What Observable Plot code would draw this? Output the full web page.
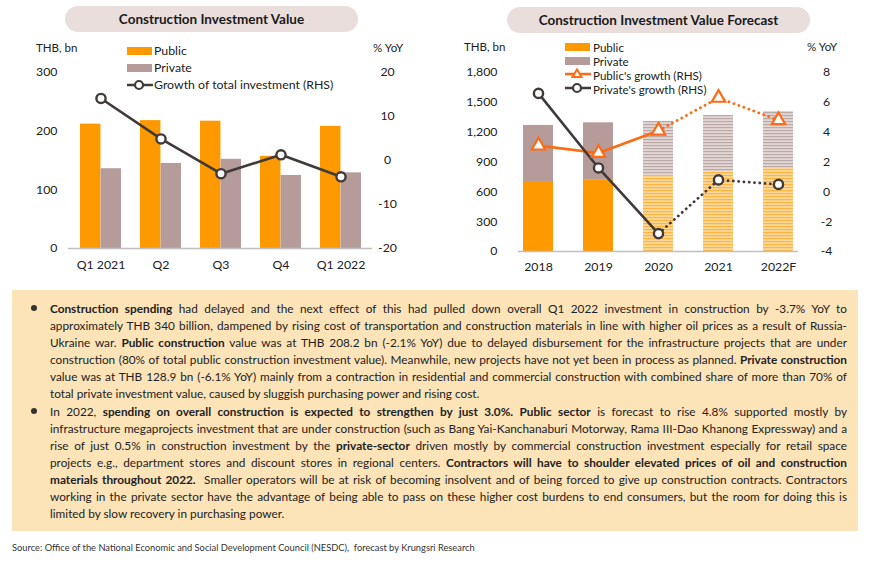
<!DOCTYPE html>
<html>
<head>
<meta charset="utf-8">
<script src="https://cdn.jsdelivr.net/npm/d3@7"></script>
<script src="https://cdn.jsdelivr.net/npm/@observablehq/plot@0.6"></script>
<style>
  html, body { margin: 0; padding: 0; background: #fff; }
  body { width: 870px; height: 564px; position: relative; overflow: hidden; font-family: Lato, "Open Sans", sans-serif; color: #222; }
  .abs { position: absolute; }
  .pill { position: absolute; background: #E9DEDC; border-radius: 14px; font-weight: 700; font-size: 13.5px; color: #1a1a1a; display: flex; align-items: center; justify-content: center; }
  .unit { position: absolute; font-size: 11.5px; color: #222; line-height: 1; transform: translateY(-50%); }
  .leg { position: absolute; font-size: 12.3px; color: #222; line-height: 1; transform: translateY(-50%); white-space: nowrap; }
  .leg.sm { font-size: 11.6px; line-height: 11px; }
  .sw { position: absolute; height: 8px; transform: translateY(-50%); }
  .box { position: absolute; left: 12px; top: 290px; width: 846px; height: 241px; background: #FDE3B8; }
  .para { position: absolute; left: 50px; width: 797px; }
  .line { height: 17px; line-height: 17px; white-space: nowrap; text-align: justify; text-align-last: justify; }
  .line.last { text-align-last: left; }
  .bullet { position: absolute; left: 31px; width: 6px; height: 6px; border-radius: 50%; background: #333; }
  .src { position: absolute; left: 12px; top: 542px; font-size: 9.3px; color: #333; white-space: nowrap; }
  #left, #right { position: absolute; top: 40px; }
  #left { left: 0; }
  #right { left: 435px; }
</style>
</head>
<body>
<div class="pill" style="left:65px; top:6px; width:293px; height:26px;">Construction Investment Value</div>
<div class="pill" style="left:507px; top:7px; width:303px; height:26px;">Construction Investment Value Forecast</div>

<div id="left"></div>
<div id="right"></div>

<div class="unit" style="left:36px; top:48px;">THB, bn</div>
<div class="unit" style="left:373px; top:48px;">% YoY</div>
<div class="unit" style="left:464px; top:47px;">THB, bn</div>
<div class="unit" style="left:807px; top:47px;">% YoY</div>

<!-- left legend -->
<div class="sw" style="left:127px; top:51px; width:25px; background:#FF9900;"></div>
<div class="leg" style="left:154px; top:51px;">Public</div>
<div class="sw" style="left:127px; top:68px; width:25px; background:#B59C9B;"></div>
<div class="leg" style="left:154px; top:68px;">Private</div>
<svg class="abs" style="left:126px; top:78px;" width="28" height="14"><line x1="1" y1="7" x2="27" y2="7" stroke="#403A38" stroke-width="2.5"/><circle cx="13" cy="7" r="4" fill="#fff" stroke="#403A38" stroke-width="2.2"/></svg>
<div class="leg" style="left:154px; top:85px;">Growth of total investment (RHS)</div>

<!-- right legend -->
<div class="sw" style="left:565px; top:47px; width:25px; background:#FF9900;"></div>
<div class="leg sm" style="left:593px; top:47px;">Public</div>
<div class="sw" style="left:565px; top:61px; width:25px; background:#B59C9B;"></div>
<div class="leg sm" style="left:593px; top:61px;">Private</div>
<svg class="abs" style="left:564px; top:67px;" width="28" height="14"><line x1="1" y1="7" x2="27" y2="7" stroke="#FF6A13" stroke-width="2.5"/><path d="M13,2.5 L17.5,10 L8.5,10 Z" fill="#fff" stroke="#FF6A13" stroke-width="2"/></svg>
<div class="leg sm" style="left:593px; top:74.5px;">Public's growth (RHS)</div>
<svg class="abs" style="left:564px; top:81px;" width="28" height="14"><line x1="1" y1="7" x2="27" y2="7" stroke="#403A38" stroke-width="2.5"/><circle cx="13" cy="7" r="4" fill="#fff" stroke="#403A38" stroke-width="2.2"/></svg>
<div class="leg sm" style="left:593px; top:88.5px;">Private's growth (RHS)</div>

<div class="box"></div>
<div class="bullet" style="top:305px;"></div>
<div class="bullet" style="top:408px;"></div>
<div class="para" id="p1" style="top:299.5px;"></div>
<div class="para" id="p2" style="top:402.5px;"></div>
<div class="src">Source: Office of the National Economic and Social Development Council (NESDC),&nbsp; forecast by Krungsri Research</div>

<script>
// ---------- Data: left chart (quarterly) ----------
const quarters = ["Q1 2021", "Q2", "Q3", "Q4", "Q1 2022"];
const qPublic = [212, 218, 217, 157, 208.2];
const qPrivate = [136, 145, 152, 124.5, 128.9];
const qGrowth = [14.1, 4.9, -3.0, 1.3, -3.7];
const qLeftTicks = [0, 100, 200, 300];
const qRightTicks = [-20, -10, 0, 10, 20];

// ---------- Data: right chart (annual) ----------
const years = ["2018", "2019", "2020", "2021", "2022F"];
const yPublic = [704, 716, 757, 798, 836];
const yPrivate = [564, 578, 551, 570, 573];
const pubGrowth = [3.1, 2.6, 4.1, 6.3, 4.8];
const privGrowth = [6.6, 1.6, -2.8, 0.8, 0.5];
const yLeftTicks = [0, 300, 600, 900, 1200, 1500, 1800];
const yRightTicks = [-4, -2, 0, 2, 4, 6, 8];
const firstEstimate = 2; // 2020 onwards hatched / dotted

const C_PUB = "#FF9900", C_PRI = "#B59C9B", C_DARK = "#403A38", C_PG = "#FF6A13";
const fontStyle = {fontFamily: "Lato, 'Open Sans', sans-serif", fontSize: "12.3px", color: "#222", background: "transparent", overflow: "visible"};

// ---------- Left chart ----------
{
  const gMin = -20, gMax = 20, yMax = 300;
  const toL = g => (g - gMin) / (gMax - gMin) * yMax;
  const fromL = v => v / yMax * (gMax - gMin) + gMin;
  const rows = quarters.map((q, i) => ({q, pub: qPublic[i], pri: qPrivate[i], g: toL(qGrowth[i])}));
  const width = 435, mL = 68, mR = 63;
  const pin = 0.32, pout = 0.174;
  const step = (width - mL - mR) / (quarters.length - pin + 2 * pout);
  const half = step * (1 - pin) / 2;
  const chart = Plot.plot({
    width, height: 240,
    marginLeft: mL, marginRight: mR, marginTop: 32, marginBottom: 32,
    style: fontStyle,
    x: {type: "band", domain: quarters, paddingInner: pin, paddingOuter: pout, label: null},
    y: {domain: [0, yMax], label: null},
    marks: [
      Plot.barY(rows, {x: "q", y: "pub", fill: C_PUB, insetRight: half}),
      Plot.barY(rows, {x: "q", y: "pri", fill: C_PRI, insetLeft: half}),
      Plot.ruleY([0], {stroke: "#BFBFBF", strokeWidth: 1.3}),
      Plot.line(rows, {x: "q", y: "g", stroke: C_DARK, strokeWidth: 2.6}),
      Plot.dot(rows, {x: "q", y: "g", r: 4.6, fill: "#fff", stroke: C_DARK, strokeWidth: 2.4}),
      Plot.axisX({tickSize: 0, tickPadding: 12, label: null}),
      Plot.axisY({ticks: qLeftTicks, tickSize: 0, tickPadding: 11, label: null}),
      Plot.axisY({anchor: "right", ticks: qRightTicks.map(toL), tickFormat: v => String(Math.round(fromL(v))), tickSize: 0, tickPadding: 15, textAnchor: "middle", label: null})
    ]
  });
  document.getElementById("left").appendChild(chart);
}

// ---------- Right chart ----------
{
  const gMin = -4, gMax = 8, yMax = 1800;
  const toL = g => (g - gMin) / (gMax - gMin) * yMax;
  const fromL = v => v / yMax * (gMax - gMin) + gMin;
  const rows = years.map((yr, i) => ({
    yr, pub: yPublic[i], tot: yPublic[i] + yPrivate[i],
    pg: toL(pubGrowth[i]), vg: toL(privGrowth[i]), est: i >= firstEstimate
  }));
  const act = rows.filter(d => !d.est);
  const est = rows.filter(d => d.est);
  const actLine = rows.slice(0, firstEstimate + 1);
  const estLine = rows.slice(firstEstimate);
  const chart = Plot.plot({
    width: 435, height: 240,
    marginLeft: 83, marginRight: 72, marginTop: 32, marginBottom: 29,
    style: fontStyle,
    x: {type: "band", domain: years, paddingInner: 0.5, paddingOuter: 0.083, label: null},
    y: {domain: [0, yMax], label: null},
    marks: [
      Plot.barY(act, {x: "yr", y1: 0, y2: "pub", fill: C_PUB}),
      Plot.barY(act, {x: "yr", y1: "pub", y2: "tot", fill: C_PRI}),
      Plot.barY(est, {x: "yr", y1: 0, y2: "pub", fill: "url(#hatchPub)"}),
      Plot.barY(est, {x: "yr", y1: "pub", y2: "tot", fill: "url(#hatchPri)"}),
      Plot.ruleY([0], {stroke: "#BFBFBF", strokeWidth: 1.3}),
      Plot.line(actLine, {x: "yr", y: "pg", stroke: C_PG, strokeWidth: 2.6}),
      Plot.line(estLine, {x: "yr", y: "pg", stroke: C_PG, strokeWidth: 2.8, strokeDasharray: "0.1,5.2", strokeLinecap: "round"}),
      Plot.line(actLine, {x: "yr", y: "vg", stroke: C_DARK, strokeWidth: 2.6}),
      Plot.line(estLine, {x: "yr", y: "vg", stroke: C_DARK, strokeWidth: 2.8, strokeDasharray: "0.1,5.2", strokeLinecap: "round"}),
      Plot.dot(rows, {x: "yr", y: "pg", symbol: "triangle", r: 5, fill: "#fff", stroke: C_PG, strokeWidth: 2.2}),
      Plot.dot(rows, {x: "yr", y: "vg", r: 4.6, fill: "#fff", stroke: C_DARK, strokeWidth: 2.4}),
      Plot.axisX({tickSize: 0, tickPadding: 11, label: null}),
      Plot.axisY({ticks: yLeftTicks, tickFormat: d3.format(","), tickSize: 0, tickPadding: 21, label: null}),
      Plot.axisY({anchor: "right", ticks: yRightTicks.map(toL), tickFormat: v => String(Math.round(fromL(v))), tickSize: 0, tickPadding: 28, textAnchor: "middle", label: null})
    ]
  });
  const svg = d3.select(chart.tagName.toLowerCase() === "svg" ? chart : chart.querySelector("svg"));
  const defs = svg.insert("defs", ":first-child");
  const mk = (id, bg, fg) => {
    const p = defs.append("pattern").attr("id", id).attr("patternUnits", "userSpaceOnUse").attr("width", 6).attr("height", 3);
    p.append("rect").attr("width", 6).attr("height", 3).attr("fill", bg);
    p.append("rect").attr("y", 0).attr("width", 6).attr("height", 1.2).attr("fill", fg);
  };
  mk("hatchPub", "#FFD99A", "#FFB340");
  mk("hatchPri", "#E2D7D5", "#BBA9A7");
  document.getElementById("right").appendChild(chart);
}

// ---------- Commentary text ----------
const para1 = [
  "<b>Construction spending</b> had delayed and the next effect of this had pulled down overall Q1 2022 investment in construction by -3.7% YoY to",
  "approximately THB 340 billion, dampened by rising cost of transportation and construction materials in line with higher oil prices as a result of Russia-",
  "Ukraine war. <b>Public construction</b> value was at THB 208.2 bn (-2.1% YoY) due to delayed disbursement for the infrastructure projects that are under",
  "construction (80% of total public construction investment value). Meanwhile, new projects have not yet been in process as planned. <b>Private construction</b>",
  "value was at THB 128.9 bn (-6.1% YoY) mainly from a contraction in residential and commercial construction with combined share of more than 70% of",
  "total private investment value, caused by sluggish purchasing power and rising cost."
];
const para2 = [
  "In 2022, <b>spending on overall construction is expected to strengthen by just 3.0%.</b> <b>Public sector</b> is forecast to rise 4.8% supported mostly by",
  "infrastructure megaprojects investment that are under construction (such as Bang Yai-Kanchanaburi Motorway, Rama III-Dao Khanong Expressway) and a",
  "rise of just 0.5% in construction investment by the <b>private-sector</b> driven mostly by commercial construction investment especially for retail space",
  "projects e.g., department stores and discount stores in regional centers. <b>Contractors will have to shoulder elevated prices of oil and construction</b>",
  "<b>materials throughout 2022.</b>&nbsp; Smaller operators will be at risk of becoming insolvent and of being forced to give up construction contracts. Contractors",
  "working in the private sector have the advantage of being able to pass on these higher cost burdens to end consumers, but the room for doing this is",
  "limited by slow recovery in purchasing power."
];
const baseSize = 13;
const allLines = [];
[["p1", para1], ["p2", para2]].forEach(([id, lines]) => {
  const host = document.getElementById(id);
  lines.forEach((html, i) => {
    const div = document.createElement("div");
    div.className = "line" + (i === lines.length - 1 ? " last" : "");
    div.style.fontSize = baseSize + "px";
    const span = document.createElement("span");
    span.innerHTML = html;
    div.appendChild(span);
    host.appendChild(div);
    allLines.push(div);
  });
});
let maxW = 0;
allLines.forEach(d => { maxW = Math.max(maxW, d.firstChild.getBoundingClientRect().width); });
const fit = Math.min(1, 790 / maxW);
allLines.forEach(d => { d.style.fontSize = (baseSize * fit).toFixed(2) + "px"; });
</script>
</body>
</html>
